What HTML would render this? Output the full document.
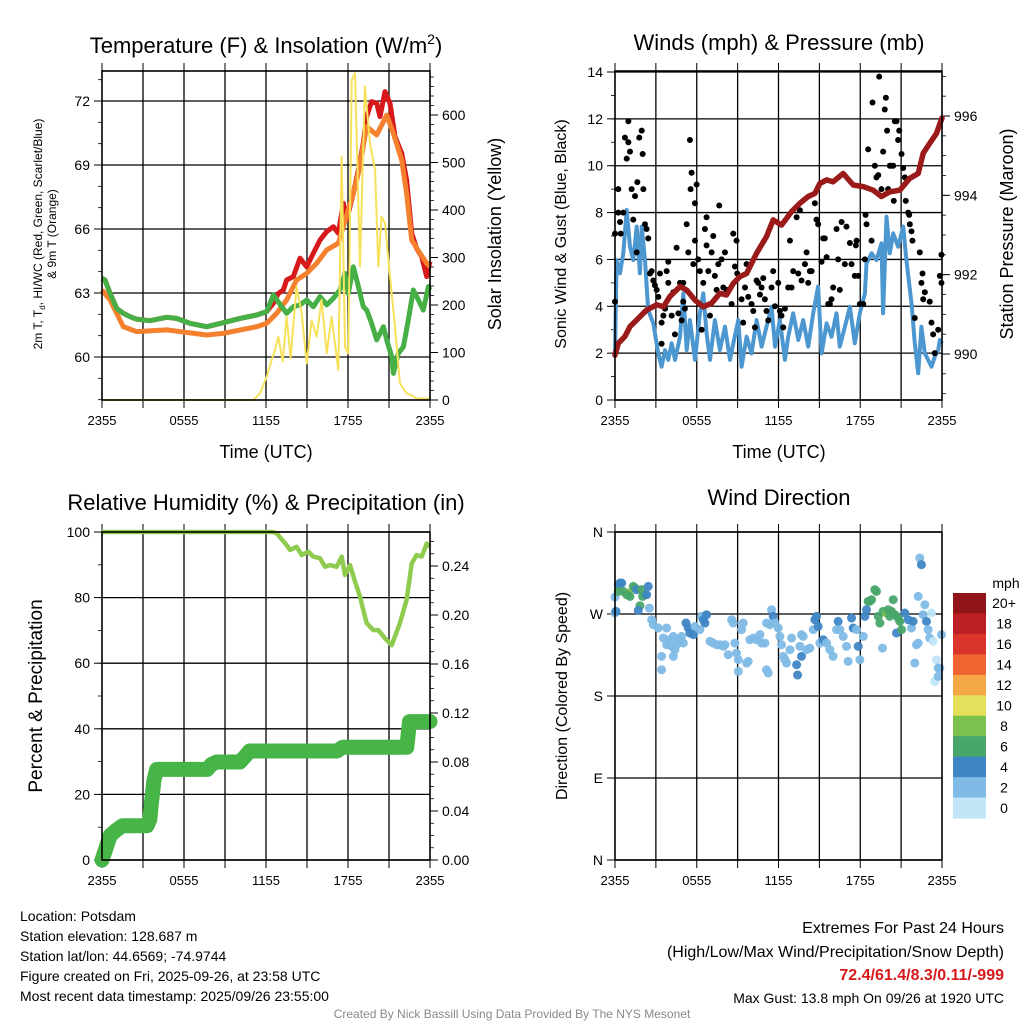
<!DOCTYPE html>
<html><head><meta charset="utf-8">
<style>
html,body{margin:0;padding:0;background:#fff;}
svg{display:block;font-family:"Liberation Sans",sans-serif;}
</style></head>
<body>
<svg id="chart" width="1024" height="1024" viewBox="0 0 1024 1024" xmlns="http://www.w3.org/2000/svg">
<rect width="1024" height="1024" fill="#fff"/>
<text x="266" y="53" font-size="22" text-anchor="middle">Temperature (F) &amp; Insolation (W/m<tspan font-size="14" dy="-9">2</tspan><tspan dy="9">)</tspan></text>
<text x="779" y="50" font-size="22" text-anchor="middle">Winds (mph) &amp; Pressure (mb)</text>
<text x="266" y="510" font-size="22" text-anchor="middle">Relative Humidity (%) &amp; Precipitation (in)</text>
<text x="779" y="505" font-size="22" text-anchor="middle">Wind Direction</text>
<text x="266" y="458" font-size="18" text-anchor="middle">Time (UTC)</text>
<text x="779" y="458" font-size="18" text-anchor="middle">Time (UTC)</text>
<text transform="translate(42,234) rotate(-90)" font-size="12" text-anchor="middle">2m T, T<tspan font-size="8" dy="3">d</tspan><tspan dy="-3">, HI/WC (Red, Green, Scarlet/Blue)</tspan></text>
<text transform="translate(56,234) rotate(-90)" font-size="12" text-anchor="middle">&amp; 9m T (Orange)</text>
<text transform="translate(501,234) rotate(-90)" font-size="18" text-anchor="middle">Solar Insolation (Yellow)</text>
<text transform="translate(566,234) rotate(-90)" font-size="16" text-anchor="middle">Sonic Wind &amp; Gust (Blue, Black)</text>
<text transform="translate(1013,234) rotate(-90)" font-size="18" text-anchor="middle">Station Pressure (Maroon)</text>
<text transform="translate(42,696) rotate(-90)" font-size="19" text-anchor="middle">Percent &amp; Precipitation</text>
<text transform="translate(567,696) rotate(-90)" font-size="16" text-anchor="middle">Direction (Colored By Speed)</text>
<g font-size="14">
<text x="20" y="921">Location: Potsdam</text>
<text x="20" y="941">Station elevation: 128.687 m</text>
<text x="20" y="961">Station lat/lon: 44.6569; -74.9744</text>
<text x="20" y="981">Figure created on Fri, 2025-09-26, at 23:58 UTC</text>
<text x="20" y="1001">Most recent data timestamp: 2025/09/26 23:55:00</text>
</g>
<g text-anchor="end">
<text x="1004" y="933" font-size="16">Extremes For Past 24 Hours</text>
<text x="1004" y="957" font-size="16">(High/Low/Max Wind/Precipitation/Snow Depth)</text>
<text x="1004" y="980" font-size="16" font-weight="bold" fill="#d7191c">72.4/61.4/8.3/0.11/-999</text>
<text x="1004" y="1003" font-size="14">Max Gust: 13.8 mph On 09/26 at 1920 UTC</text>
</g>
<text x="512" y="1018" font-size="12" fill="#888" text-anchor="middle">Created By Nick Bassill Using Data Provided By The NYS Mesonet</text>
</svg>
<script>
// ---------- DATA ----------
const xTickLabels = ["2355","0555","1155","1755","2355"];
// temperature panel
const tempH = [0,0.22,0.59,1.07,1.56,2.05,2.54,3.51,4.73,5.46,6.44,7.66,8.88,10.10,11.32,12.05,12.54,12.90,13.27,13.51,14.0,14.49,14.98,15.46,15.95,16.44,16.93,17.29,17.66,17.90,18.39,18.76,19.12,19.37,19.73,20.10,20.34,20.71,21.07,21.44,21.93,22.29,22.66,23.02,23.39,23.76,24];
const tempV = [63.69,63.61,62.98,62.28,62.05,61.89,61.77,61.70,61.86,61.81,61.58,61.42,61.61,61.81,61.97,62.13,62.52,62.98,63.14,63.61,63.77,64.63,64.23,64.86,65.48,65.88,66.11,65.80,67.20,66.42,67.67,68.77,70.02,71.27,71.97,71.89,71.27,72.44,71.89,70.33,69.55,68.30,65.80,65.09,64.70,63.77,64.47];
const t9H = [0,0.59,1.56,2.54,4.73,7.66,8.88,11.32,12.05,12.78,13.51,14.24,14.98,15.71,16.44,17.29,18.39,18.76,19.37,20.10,20.83,21.32,21.93,22.29,22.66,23.27,23.76,24];
const t9V = [63.14,62.67,61.42,61.19,61.27,61.03,61.11,61.42,61.58,62.05,62.67,63.61,63.92,64.39,65.02,65.33,67.67,68.61,70.80,70.41,71.34,70.48,69.23,67.67,65.48,64.86,64.39,64.23];
const dewH = [0,0.22,0.59,1.07,1.56,2.05,2.54,3.51,4.73,5.46,6.44,7.66,8.88,10.10,11.32,12.05,12.54,13.15,13.51,14.0,14.49,14.98,15.46,15.95,16.44,16.93,17.41,17.78,18.02,18.39,18.76,19.12,19.37,19.73,20.10,20.59,20.83,21.20,21.32,21.68,22.05,22.41,22.78,23.15,23.51,23.88,24];
const dewV = [63.69,63.61,62.98,62.28,62.05,61.89,61.77,61.70,61.86,61.81,61.58,61.42,61.61,61.81,61.97,62.13,62.91,62.36,62.05,62.36,62.44,62.67,62.36,62.83,62.44,62.75,63.14,63.92,62.98,64.23,63.30,62.36,62.20,61.58,60.80,61.42,60.80,60.02,59.23,60.17,60.48,61.73,63.14,62.67,62.20,63.30,63.14];
const solarH = [0,11.07,11.56,12.05,12.41,12.66,12.90,13.22,13.51,13.80,14.24,14.61,14.98,15.34,15.71,16.07,16.44,16.80,17.29,17.54,17.78,18.02,18.27,18.51,18.88,19.24,19.61,19.98,20.22,20.46,20.71,21.07,21.44,21.80,22.29,22.66,23.02,24];
const solarV = [0,0,14,49,84,105,133,81,175,88,239,182,77,168,133,211,98,175,63,512,112,98,674,688,281,660,540,484,281,386,372,260,154,35,14,10,3,3];
const tempTicks = [60,63,66,69,72];
const solarTicks = [0,100,200,300,400,500,600];
// wind panel
const windH = [0,0.12,0.37,0.61,0.86,1.10,1.34,1.59,1.83,1.96,2.20,2.44,2.81,3.18,3.42,3.67,3.91,4.16,4.40,4.77,5.01,5.26,5.50,5.87,6.23,6.48,6.72,6.97,7.33,7.70,8.07,8.44,8.68,9.05,9.29,9.66,10.02,10.39,10.76,11.12,11.49,11.74,12.10,12.47,12.71,13.08,13.45,13.81,14.18,14.55,14.91,15.16,15.53,15.89,16.26,16.50,16.87,17.24,17.60,17.97,18.34,18.46,18.83,19.19,19.56,19.68,19.93,20.17,20.42,20.78,21.15,21.39,21.76,22.00,22.25,22.49,22.74,22.98,23.23,23.47,23.72,23.84,24];
const windV = [1.99,5.97,5.41,6.26,8.11,6.54,5.97,7.40,5.41,7.40,5.97,3.84,3.27,1.99,1.42,2.13,1.71,2.42,1.71,2.70,4.55,2.13,3.41,1.71,3.70,4.55,2.84,1.71,3.41,2.13,3.13,1.71,2.42,3.41,1.42,2.70,1.99,3.41,2.28,3.13,3.98,2.28,3.41,1.71,2.70,3.70,2.56,3.41,2.28,3.70,4.84,1.99,3.27,2.70,3.70,2.28,3.13,3.98,2.42,3.70,4.55,5.83,6.26,5.97,6.69,3.70,7.82,6.26,7.11,6.54,7.40,5.97,4.13,2.42,1.14,3.13,1.99,1.71,1.42,1.85,2.13,2.56,2.4];
const gustH = [0,0,0.24,0.24,0.37,0.42,0.61,0.73,0.98,0.98,1.10,0.86,1.22,1.34,1.47,1.59,1.64,1.78,1.96,2.03,2.08,2.20,2.32,2.44,2.57,2.69,2.81,2.93,3.06,3.18,3.30,3.42,3.42,3.55,3.67,3.79,3.91,3.91,4.16,4.28,4.40,4.52,4.65,4.77,4.89,5.01,5.01,5.13,5.26,5.38,5.50,5.55,5.62,5.75,5.87,5.87,5.99,6.11,6.23,6.36,6.48,6.60,6.72,6.72,6.85,6.97,7.09,7.21,7.33,7.46,7.58,7.65,7.82,7.95,8.07,8.19,8.56,8.68,8.80,8.92,8.97,9.29,9.41,9.54,9.66,9.78,10.02,10.15,10.27,10.39,10.51,10.64,10.76,10.88,11.00,11.12,11.25,11.49,11.61,11.74,11.98,12.10,12.22,12.35,12.47,12.71,12.84,12.96,13.08,13.33,13.45,13.57,13.69,13.94,14.06,14.18,14.30,14.43,14.67,14.79,14.91,15.16,15.28,15.40,15.53,15.65,15.77,15.89,16.01,16.26,16.38,16.50,16.63,16.87,16.99,17.24,17.36,17.60,17.68,17.73,17.85,17.97,18.22,18.34,18.39,18.46,18.58,18.83,18.90,19.07,19.19,19.32,19.39,19.56,19.68,19.80,19.88,19.97,20.05,20.17,20.29,20.42,20.46,20.54,20.66,20.78,20.86,21.03,21.15,21.27,21.34,21.52,21.59,21.64,21.76,21.83,22.00,22.37,22.49,22.57,22.62,22.74,23.10,23.23,23.35,23.47,23.72,23.84,23.96,23.96];
const gustV = [4.2,7.1,9.0,8.0,7.6,7.1,8.0,11.2,11.0,11.9,10.6,10.3,9.0,7.7,8.7,6.3,9.3,11.2,11.5,10.5,9.0,7.5,7.3,6.9,5.4,5.5,5.1,4.9,4.7,4.4,5.4,3.3,2.4,3.6,3.9,5.5,5.9,5.0,3.6,4.6,2.8,6.5,3.7,5.0,3.4,5.0,4.2,3.9,7.5,6.3,11.1,9.0,9.7,5.8,8.4,6.8,9.2,6.0,5.5,3.0,5.0,7.3,6.6,7.8,5.5,3.6,6.3,7.0,5.3,4.7,5.8,8.3,6.0,4.8,6.3,4.7,4.1,7.1,5.7,6.8,5.4,4.3,3.3,4.8,5.8,4.4,4.1,3.8,3.1,5.1,5.0,4.5,4.8,5.2,4.3,3.8,3.4,4.8,5.5,4.0,5.0,3.8,3.6,3.1,3.9,4.8,6.8,4.8,5.5,7.8,5.4,8.1,5.1,5.8,6.3,5.0,5.5,5.5,8.4,7.7,7.5,5.9,6.9,6.9,6.1,4.1,4.1,4.3,4.8,7.3,6.0,4.7,7.6,5.8,7.4,6.7,5.8,5.3,6.6,6.8,5.3,4.1,4.1,6.0,7.9,7.5,10.7,6.8,12.7,10.0,9.5,9.6,13.8,9.0,10.6,12.4,12.9,11.5,9.0,10.0,10.0,10.0,8.5,11.9,11.9,11.1,11.5,10.5,9.9,9.5,8.5,8.0,7.9,7.5,7.2,6.8,3.5,6.3,5.0,5.4,4.3,4.6,4.2,3.3,2.8,2.0,3.0,5.3,5.0,6.2];
const presH = [0,0.24,0.73,1.10,1.59,2.32,3.06,3.55,4.03,4.77,5.26,5.87,6.48,7.09,7.70,8.19,8.68,9.17,9.66,10.39,11.12,11.61,12.22,12.96,13.57,14.18,14.67,15.04,15.53,16.01,16.75,17.48,18.22,18.95,19.56,20.17,20.90,21.64,22.25,22.62,23.10,23.59,24];
const presV = [989.97,990.27,990.44,990.69,990.86,991.11,991.24,991.19,991.45,991.70,991.61,991.36,991.19,991.28,991.53,991.49,991.78,991.95,992.03,992.54,992.96,993.38,993.25,993.59,993.80,993.97,994.05,994.30,994.39,994.34,994.55,994.26,994.22,994.13,993.97,994.09,994.13,994.43,994.55,995.06,995.31,995.56,995.95];
const windTicks = [0,2,4,6,8,10,12,14];
const presTicks = [990,992,994,996];
// RH / precip panel
const rhH = [0,12.5,12.78,13.51,13.76,14.24,14.61,15.10,15.46,15.95,16.32,16.68,17.17,17.54,17.78,18.15,18.51,18.88,19.12,19.37,19.85,20.22,20.71,21.20,21.80,22.29,22.66,23.02,23.39,23.76,24];
const rhV = [100,100,99.6,96.0,94.5,95.5,93.0,94.0,92.5,92.0,89.4,89.9,89.4,92.5,86.9,89.9,84.9,80.3,76.2,72.2,70.1,70.1,67.6,65.5,72.2,79.3,90.4,93.0,92.5,96.5,95.5];
const precipH = [0,0.3,0.6,1.0,1.5,3.3,3.5,3.6,3.7,3.8,4.0,7.7,8.0,8.4,10.1,10.5,10.8,17.2,17.6,22.3,22.4,22.5,24];
const precipV = [0,0.01,0.02,0.024,0.028,0.028,0.033,0.045,0.055,0.065,0.074,0.074,0.078,0.080,0.080,0.085,0.089,0.089,0.092,0.092,0.102,0.113,0.113];
const rhTicks = [0,20,40,60,80,100];
const precipTicks = [0,0.04,0.08,0.12,0.16,0.20,0.24];
// direction panel
const dirH = [0,0.07,0,0.24,0.37,0.49,0.24,0.61,0.98,0.86,1.10,1.34,1.47,1.59,1.96,2.03,2.20,2.44,2.32,1.83,1.71,2.52,2.69,2.81,3.18,3.79,3.42,3.55,3.79,4.03,4.28,4.40,4.52,4.77,4.89,5.01,4.28,4.16,3.42,5.21,5.38,5.50,5.75,5.87,6.36,6.48,6.60,6.72,6.23,6.97,7.21,7.46,7.70,7.95,8.07,8.31,8.56,8.68,8.80,8.92,9.05,9.41,9.29,9.66,9.78,9.05,9.90,10.15,10.39,10.64,10.76,11.00,11.12,11.37,11.49,11.61,11.74,11.98,12.10,12.22,11.12,11.25,12.35,12.47,12.59,12.84,12.96,13.33,13.40,13.69,13.57,13.69,13.81,14.06,14.30,14.55,14.67,14.79,14.91,15.04,15.28,15.53,15.77,16.01,16.26,16.38,16.50,16.75,16.99,17.11,17.36,17.48,17.73,17.85,17.97,18.22,18.34,18.46,18.58,18.70,18.83,19.07,19.19,19.32,19.44,19.63,19.68,19.93,20.05,20.17,20.29,20.42,20.54,20.66,20.78,20.90,21.03,21.27,21.52,21.76,21.88,22.00,22.25,22.37,22.49,22.62,22.74,22.86,22.98,23.10,23.23,23.35,22.13,22.25,23.59,23.72,23.84,23.96,23.47,23.72];
const dirDeg = [271.1,272.9,288.6,302.2,304,304,294.8,294.8,293,291.2,289.3,300.3,298.5,296.7,296.7,289.3,291.2,300.3,291.2,279.1,274,276.5,263.7,258.2,254.6,254.6,223.5,243.6,236.3,241.8,245.4,230.8,236.3,241.8,245.4,238.1,223.5,234.5,208.8,260.1,254.6,249.1,247.3,256.4,267.4,263.7,260.1,269.2,252.8,240,238.1,236.3,236.3,234.5,236.3,225.3,263.7,260.1,238.1,227.1,219.8,260.1,252.8,216.2,218,207,241.8,243.6,241.8,247.3,238.1,238.1,260.1,258.2,274.7,267.4,260.1,254.6,245.4,236.3,208.8,205.2,223.5,219.8,216.2,230.8,243.6,214.3,203,223.5,234.5,247.3,245.4,230.8,232.6,252.8,263.7,267.4,256.4,238.1,241.8,238.1,230.8,223.5,252.8,261.9,252.8,245.4,234.5,218,265.6,254.6,252.8,234.5,219.8,245.4,267.4,274.7,283.9,283.9,285.7,296.7,294.8,267.4,260.1,232.6,272.9,271.1,274.7,267.4,272.9,285.7,269.2,249.1,265.6,261.9,252.8,271.1,263.7,254.6,261.9,216.2,289.3,331.4,324.1,269.2,280.2,261.9,252.8,243.6,271.1,240,236.3,238.1,219.8,210.7,210.7,247.3,196,201.5];
const dirSpd = [2.5,4.5,3,4.5,5,4.5,6,6,8,6,6,6,6,5,6,6,6,5,4.5,6,4.5,3,3,3,3,3,3,3,3,3,3,3,3,3,3,3,3,3,3,5,5,5,5,3,3,5,5,5,3,3,3,3,3,3,3,3,3,3,3,3,3,3,3,3,3,3,3,3,3,3,3,3,3,3,3,4.5,3,3,3,3,3,3,3,3,3,3,3,5,5,5,3,3,3,3,3,3,5,5,5,3,5,3,3,3,3,5,3,3,3,3,5,5,3,5,3,3,5,5,7,7,7,7,6,6,7,3,7,8,7,7,7,7,7,5,7,6,7,5,5,3,5,3,3,2,4.5,3,3,4.5,3,3,1.5,1.5,3,3,1.5,3,3,3,1.5,3];
const cbLabels = ["20+","18","16","14","12","10","8","6","4","2","0"];
const cbColors = ["#8f1518","#bb1e24","#d9352b","#ef6430","#f5a847","#e5e05b","#7cc14e","#49a66a","#3f86c4","#80bae6","#c0e6f8"];

// ---------- DRAW ----------
const svg = document.getElementById('chart');
const NS = 'http://www.w3.org/2000/svg';
function mk(tag, attrs, parent){ const e=document.createElementNS(NS,tag); for(const k in attrs) e.setAttribute(k,attrs[k]); (parent||svg).appendChild(e); return e; }
function lin(d0,d1,r0,r1){ return v => r0 + (v-d0)/(d1-d0)*(r1-r0); }

const P1={x0:102,x1:430,y0:71,y1:400}, P2={x0:615,x1:942,y0:71,y1:400}, P3={x0:102,x1:430,y0:532,y1:860}, P4={x0:615,x1:942,y0:532,y1:860};

function frame(P, name){
  const g = mk('g',{});
  
  
  for(let i=1;i<8;i++){ const x=P.x0+(P.x1-P.x0)*i/8; mk('line',{x1:x,x2:x,y1:P.y0,y2:P.y1,stroke:'#000','stroke-width':1.3},g); }
  for(let i=0;i<=8;i++){ const x=P.x0+(P.x1-P.x0)*i/8; mk('line',{x1:x,x2:x,y1:P.y1,y2:P.y1+8,stroke:'#000','stroke-width':1},g); mk('line',{x1:x,x2:x,y1:P.y0,y2:P.y0-8,stroke:'#000','stroke-width':1},g); }
  for(let i=0;i<5;i++){ const t=mk('text',{x:P.x0+(P.x1-P.x0)*i/4,y:P.y1+25,'font-size':13,'text-anchor':'middle'},g); t.textContent=xTickLabels[i];
    
     }
  return g;
}
function border(P){ const r=mk('rect',{x:P.x0,y:P.y0,width:P.x1-P.x0,height:P.y1-P.y0,fill:'none',stroke:'#000','stroke-width':1.6});
  
   }
function yAxis(P, ticks, sc, side, fmt, minorStep, lo, hi, grid, name){
  const g=mk('g',{});
  
  
  const xe = side==='l'?P.x0:P.x1, dir = side==='l'?-1:1;
  if(minorStep){ for(let v=lo; v<=hi+1e-9; v+=minorStep){ const y=sc(v); if(y<P.y0-0.5||y>P.y1+0.5) continue; mk('line',{x1:xe,x2:xe+dir*4,y1:y,y2:y,stroke:'#000','stroke-width':0.8},g);} }
  ticks.forEach(v=>{ const y=sc(v);
    if(grid) mk('line',{x1:P.x0,x2:P.x1,y1:y,y2:y,stroke:'#000','stroke-width':1.3},g);
    mk('line',{x1:xe,x2:xe+dir*8,y1:y,y2:y,stroke:'#000','stroke-width':1},g);
    const t=mk('text',{x:xe+dir*12,y:y+5,'font-size':14,'text-anchor':side==='l'?'end':'start'},g); t.textContent=fmt(v);
    
     });
}
function pathOf(xs,ys,fx,fy){ return xs.map((h,i)=>(i?'L':'M')+fx(h).toFixed(1)+','+fy(ys[i]).toFixed(1)).join(''); }

// Panel 1
const x1s=lin(0,24,P1.x0,P1.x1), yT=lin(72,60,101,357), yS=lin(0,600,400,115);
frame(P1,'temp');
yAxis(P1,tempTicks,yT,'l',v=>v,1,58,73.5,true,'temp-y-axis');
yAxis(P1,solarTicks,yS,'r',v=>v,20,0,700,false,'solar-y-axis');
let e;
e=mk('path',{d:pathOf(tempH,tempV,x1s,yT),fill:'none',stroke:'#d7191c','stroke-width':5,'stroke-linejoin':'round'});


e=mk('path',{d:pathOf(t9H,t9V,x1s,yT),fill:'none',stroke:'#f5812f','stroke-width':5,'stroke-linejoin':'round'});


e=mk('path',{d:pathOf(dewH,dewV,x1s,yT),fill:'none',stroke:'#46b046','stroke-width':5,'stroke-linejoin':'round'});


e=mk('path',{d:pathOf(solarH,solarV,x1s,yS),fill:'none',stroke:'#f7e15a','stroke-width':2,'stroke-linejoin':'round'});


border(P1);

// Panel 2
const x2s=lin(0,24,P2.x0,P2.x1), yW=lin(0,14,400,72), yP=lin(990,996,354,116);
frame(P2,'wind');
yAxis(P2,windTicks,yW,'l',v=>v,1,0,14,true,'wind-y-axis');
yAxis(P2,presTicks,yP,'r',v=>v,0.5,989,997,false,'pressure-y-axis');
e=mk('path',{d:pathOf(windH,windV,x2s,yW),fill:'none',stroke:'#4d97d1','stroke-width':4,'stroke-linejoin':'round'});


gustH.forEach((h,i)=>{ const c=mk('circle',{cx:x2s(h),cy:yW(gustV[i]),r:3,fill:'#000'});
  
   });
e=mk('path',{d:pathOf(presH,presV,x2s,yP),fill:'none',stroke:'#9b1a1a','stroke-width':5.5,'stroke-linejoin':'round','stroke-linecap':'round'});


border(P2);

// Panel 3
const x3s=lin(0,24,P3.x0,P3.x1), yR=lin(0,100,860,532), yPr=lin(0,0.24,860,566);
frame(P3,'rh');
yAxis(P3,rhTicks,yR,'l',v=>v,10,0,100,true,'rh-y-axis');
yAxis(P3,precipTicks,yPr,'r',v=>v.toFixed(2),0.01,0,0.26,false,'precip-y-axis');
e=mk('path',{d:pathOf(rhH,rhV,x3s,yR),fill:'none',stroke:'#8fcb4f','stroke-width':4.5,'stroke-linejoin':'round'});


e=mk('path',{d:pathOf(precipH,precipV,x3s,yPr),fill:'none',stroke:'#46b446','stroke-width':15,'stroke-linejoin':'round','stroke-linecap':'round'});


border(P3);

// Panel 4
const x4s=lin(0,24,P4.x0,P4.x1), yD=lin(0,360,860,532);
frame(P4,'dir');
yAxis(P4,[0,90,180,270,360],yD,'l',v=>['N','E','S','W','N'][v/90],0,0,0,true,'dir-y-axis');
function spdColor(s){ const b=Math.min(10,Math.floor(s/2)); return cbColors[10-b]; }
dirH.forEach((h,i)=>{ const c=mk('circle',{cx:x4s(h),cy:yD(dirDeg[i]),r:4.5,fill:spdColor(dirSpd[i]),'fill-opacity':0.95});
  
   });
border(P4);

// colorbar
const cb=mk('g',{});


const cbTop=593, cbH=225/11;
cbColors.forEach((c,i)=>{ const r=mk('rect',{x:953,y:cbTop+i*cbH,width:33,height:cbH+0.5,fill:c},cb);
  
  
  const t=mk('text',{x:1004,y:cbTop+i*cbH+cbH/2+5,'font-size':14,'text-anchor':'middle'},cb); t.textContent=cbLabels[i];
  
   });
const mph=mk('text',{x:1006,y:588,'font-size':14,'text-anchor':'middle'},cb); mph.textContent='mph';


</script>
</body></html>
